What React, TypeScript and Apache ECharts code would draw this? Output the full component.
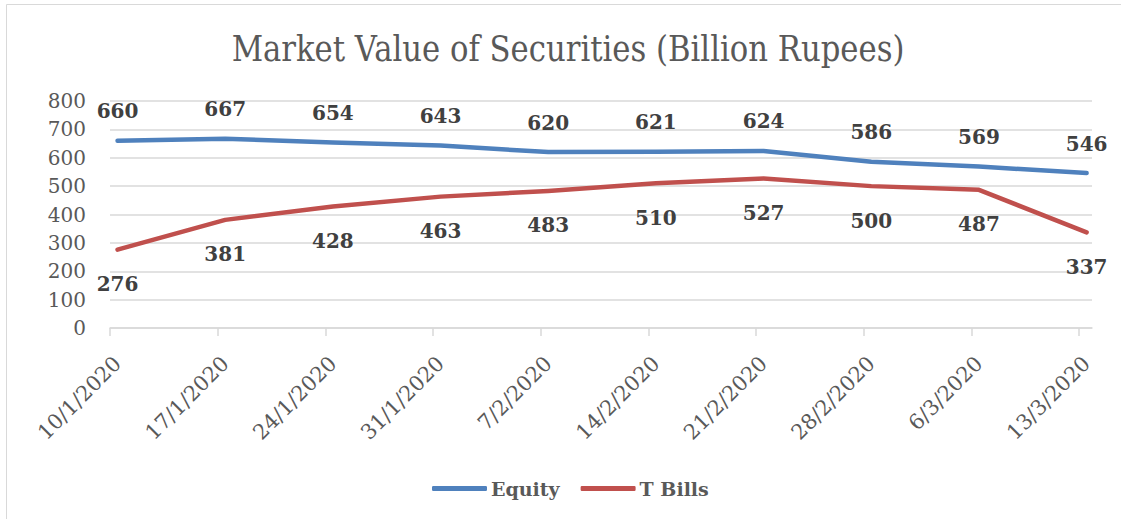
import React, { useEffect, useRef } from "react";
import * as echarts from "echarts";

const TITLE = "Market Value of Securities (Billion Rupees)";
const categories = [
  "10/1/2020",
  "17/1/2020",
  "24/1/2020",
  "31/1/2020",
  "7/2/2020",
  "14/2/2020",
  "21/2/2020",
  "28/2/2020",
  "6/3/2020",
  "13/3/2020",
];
const equity = [660, 667, 654, 643, 620, 621, 624, 586, 569, 546];
const tBills = [276, 381, 428, 463, 483, 510, 527, 500, 487, 337];
const seriesNames = ["Equity", "T Bills"];
const yMin = 0;
const yMax = 800;
const yStep = 100;

const FONT = "'DejaVu Serif', serif";

export default function App() {
  const ref = useRef<HTMLDivElement>(null);

  useEffect(() => {
    if (!ref.current) return;
    const chart = echarts.init(ref.current, null, { renderer: "svg" });

    let scaleX = 1;
    const titleSize = 36;
    try {
      const c = document.createElement("canvas");
      const ctx = c.getContext("2d");
      if (ctx) {
        ctx.font = `${titleSize}px 'DejaVu Serif'`;
        const w = ctx.measureText(TITLE).width;
        if (w > 0) scaleX = 673 / w;
      }
    } catch (e) {}

    const axisColor = "#D9D9D9";
    const textColor = "#595959";

    chart.setOption({
      animation: false,
      backgroundColor: "#ffffff",
      grid: { left: 110, right: 29, top: 101, bottom: 191 },
      graphic: [
        {
          type: "rect",
          shape: { x: 6.5, y: 4.5, width: 1300, height: 700 },
          style: { fill: "none", stroke: axisColor, lineWidth: 1 },
          silent: true,
        },
        {
          type: "text",
          x: 568,
          y: 49,
          scaleX: scaleX,
          style: {
            text: TITLE,
            fontFamily: FONT,
            fontSize: titleSize,
            fill: textColor,
            align: "center",
            verticalAlign: "middle",
          },
        },
      ],
      legend: {
        data: seriesNames,
        left: 427,
        top: 474,
        icon: "roundRect",
        itemWidth: 55,
        itemHeight: 5,
        itemGap: 21,
        textStyle: {
          fontFamily: FONT,
          fontWeight: "bold",
          fontSize: 19,
          color: textColor,
          padding: [0, 0, 0, -1],
        },
      },
      xAxis: {
        type: "value",
        min: -0.07,
        max: 9.05,
        axisLine: { show: true, lineStyle: { color: axisColor, width: 1.5 } },
        axisTick: {
          show: true,
          length: 8,
          lineStyle: { color: axisColor, width: 1.5 },
          customValues: categories.map((_, i) => i - 0.07),
        },
        axisLabel: {
          customValues: categories.map((_, i) => i),
          formatter: (v: number) => categories[Math.round(v)] ?? "",
          rotate: 45,
          margin: 32,
          fontFamily: FONT,
          fontSize: 21,
          color: textColor,
        },
        splitLine: { show: false },
      },
      yAxis: {
        type: "value",
        min: yMin,
        max: yMax,
        interval: yStep,
        axisLine: { show: false },
        axisTick: { show: false },
        axisLabel: {
          margin: 24,
          fontFamily: FONT,
          fontSize: 20,
          color: textColor,
        },
        splitLine: { show: true, lineStyle: { color: axisColor, width: 1.5 } },
      },
      series: [
        {
          name: seriesNames[0],
          type: "line",
          data: equity.map((v, i) => [i, v]),
          symbol: "circle",
          symbolSize: 1,
          color: "#4F81BD",
          itemStyle: { color: "#4F81BD" },
          lineStyle: { color: "#4F81BD", width: 4.5, cap: "round", join: "round" },
          label: {
            show: true,
            position: "top",
            distance: 19,
            fontFamily: FONT,
            fontWeight: "bold",
            fontSize: 20,
            color: "#404040",
          },
        },
        {
          name: seriesNames[1],
          type: "line",
          data: tBills.map((v, i) => [i, v]),
          symbol: "circle",
          symbolSize: 1,
          color: "#C0504D",
          itemStyle: { color: "#C0504D" },
          lineStyle: { color: "#C0504D", width: 4.5, cap: "round", join: "round" },
          label: {
            show: true,
            position: "bottom",
            distance: 24,
            fontFamily: FONT,
            fontWeight: "bold",
            fontSize: 20,
            color: "#404040",
          },
        },
      ],
    });

    return () => chart.dispose();
  }, []);

  return (
    <div
      ref={ref}
      style={{ position: "absolute", left: 0, top: 0, width: 1121, height: 519, background: "#fff" }}
    />
  );
}
